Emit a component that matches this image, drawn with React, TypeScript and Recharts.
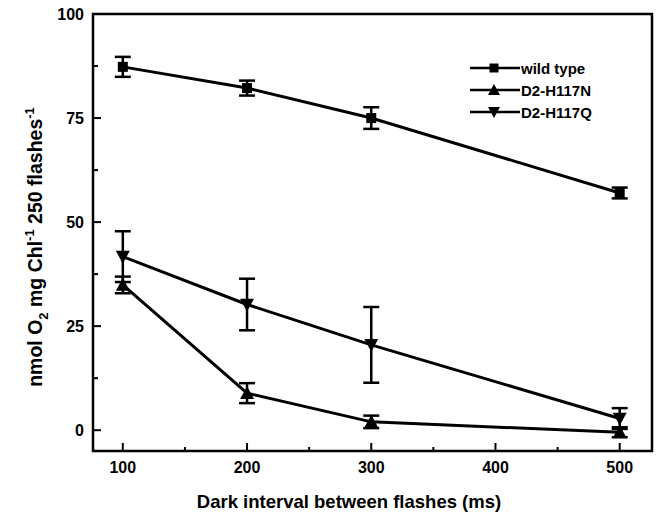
import React from 'react';
import { LineChart, Line, XAxis, YAxis, ErrorBar, ReferenceArea } from 'recharts';

const intervals = [100, 200, 300, 500];
const wildType = [87.3, 82.2, 75, 57];
const wildTypeErr = [2.4, 1.8, 2.6, 1.3];
const h117n = [34.9, 8.9, 2.0, -0.5];
const h117nErr = [2, 2.4, 1.5, 1.2];
const h117q = [41.7, 30.2, 20.5, 2.8];
const h117qErr = [6.1, 6.2, 9.1, 2.5];

const xTicks = [100, 150, 200, 250, 300, 350, 400, 450, 500];
const yTicks = [0, 12.5, 25, 37.5, 50, 62.5, 75, 87.5, 100];
const seriesNames = ['wild type', 'D2-H117N', 'D2-H117Q'];

const data = intervals.map((t, i) => ({
  t,
  wt: wildType[i],
  wtErr: wildTypeErr[i],
  n: h117n[i],
  nErr: h117nErr[i],
  q: h117q[i],
  qErr: h117qErr[i],
}));

const FONT = '"Liberation Sans", Arial, sans-serif';

const Square = ({ cx, cy, size = 10 }: any) => (
  <rect x={cx - size / 2} y={cy - size / 2} width={size} height={size} fill="#000" />
);
const TriUp = ({ cx, cy, size = 14 }: any) => (
  <polygon points={`${cx},${cy - size / 2} ${cx + size / 2},${cy + size / 2.4} ${cx - size / 2},${cy + size / 2.4}`} fill="#000" />
);
const TriDown = ({ cx, cy, size = 14 }: any) => (
  <polygon points={`${cx},${cy + size / 2} ${cx + size / 2},${cy - size / 2.4} ${cx - size / 2},${cy - size / 2.4}`} fill="#000" />
);

const markers = [Square, TriUp, TriDown];

const XTick = ({ x, y, payload }: any) => {
  const major = payload.value % 100 === 0;
  const axisY = y - 10;
  return (
    <g>
      <line x1={x} x2={x} y1={axisY} y2={axisY - (major ? 8 : 4)} stroke="#000" strokeWidth={2} />
      {major && (
        <text x={x} y={y + 12} textAnchor="middle" fontFamily={FONT} fontWeight="bold" fontSize={16} fill="#000">
          {payload.value}
        </text>
      )}
    </g>
  );
};

const YTick = ({ x, y, payload }: any) => {
  const major = payload.value % 25 === 0;
  const axisX = x + 10;
  return (
    <g>
      <line x1={axisX} x2={axisX + (major ? 8 : 5)} y1={y} y2={y} stroke="#000" strokeWidth={2} />
      {major && (
        <text x={x + 1} y={y + 5.5} textAnchor="end" fontFamily={FONT} fontWeight="bold" fontSize={16} fill="#000">
          {payload.value}
        </text>
      )}
    </g>
  );
};

const LegendBox = () => (
  <div
    style={{
      position: 'absolute',
      left: 468,
      top: 57,
      fontFamily: FONT,
      fontWeight: 'bold',
      fontSize: 15,
      color: '#000',
    }}
  >
    {seriesNames.map((name, i) => {
      const M = markers[i];
      return (
        <div key={name} style={{ display: 'flex', alignItems: 'center', height: 22 }}>
          <svg width={53} height={16}>
            <line x1={2} x2={52} y1={8} y2={8} stroke="#000" strokeWidth={2.5} />
            <M cx={26} cy={8} size={i === 0 ? 9 : 12} />
          </svg>
          <span>{name}</span>
        </div>
      );
    })}
  </div>
);

export default function App() {
  const keys = ['wt', 'n', 'q'];
  return (
    <div style={{ position: 'absolute', left: 0, top: 0, width: 665, height: 517, background: '#fff' }}>
      <LineChart width={665} height={517} data={data} margin={{ top: 14, right: 13, left: 0, bottom: 0 }}>
        <XAxis
          dataKey="t"
          type="number"
          domain={[76, 526]}
          ticks={xTicks}
          allowDataOverflow
          axisLine={false}
          tickLine={false}
          tickSize={0}
          tickMargin={10}
          height={66}
          tick={<XTick />}
          label={() => (
            <text x={349} y={508} textAnchor="middle" fontFamily={FONT} fontWeight="bold" fontSize={18.5} fill="#000">
              Dark interval between flashes (ms)
            </text>
          )}
        />
        <YAxis
          type="number"
          domain={[-5, 100]}
          ticks={yTicks}
          allowDataOverflow
          axisLine={false}
          tickLine={false}
          tickSize={0}
          tickMargin={10}
          width={93}
          tick={<YTick />}
          label={() => (
            <text
              transform="translate(42,247) rotate(-90)"
              textAnchor="middle"
              fontFamily={FONT}
              fontWeight="bold"
              fontSize={19.5}
              fill="#000"
            >
              nmol O<tspan dy={6} fontSize={13}>2</tspan>
              <tspan dy={-6}> mg Chl</tspan>
              <tspan dy={-8} fontSize={13}>-1</tspan>
              <tspan dy={8}> 250 flashes</tspan>
              <tspan dy={-8} fontSize={13}>-1</tspan>
            </text>
          )}
        />
        <ReferenceArea x1={76} x2={526} y1={-5} y2={100} fill="none" stroke="#000" strokeWidth={2.5} strokeOpacity={1} />
        {keys.map((k, i) => {
          const M = markers[i];
          return (
            <Line
              key={k}
              dataKey={k}
              name={seriesNames[i]}
              stroke="#000"
              strokeWidth={3}
              isAnimationActive={false}
              dot={(p: any) => <M key={`${k}-${p.index}`} cx={p.cx} cy={p.cy} size={i === 0 ? 10 : 14} />}
              activeDot={false}
            >
              <ErrorBar dataKey={`${k}Err`} width={8} strokeWidth={2.5} stroke="#000" direction="y" />
            </Line>
          );
        })}
      </LineChart>
      <LegendBox />
    </div>
  );
}
